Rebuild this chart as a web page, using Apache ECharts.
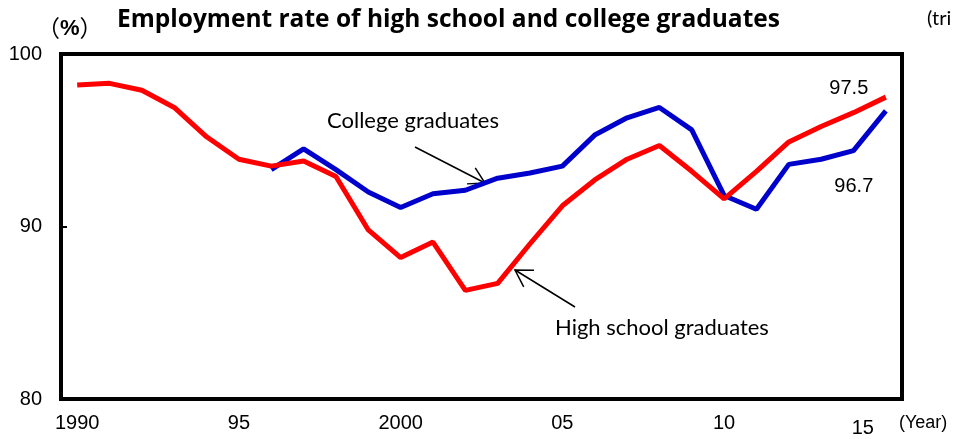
<!DOCTYPE html>
<html>
<head>
<meta charset="utf-8">
<script src="https://cdn.jsdelivr.net/npm/echarts@6/dist/echarts.min.js"></script>
<style>
  html, body { margin: 0; padding: 0; background: #fff; }
  #chart { width: 955px; height: 439px; }
</style>
</head>
<body>
<div id="chart"></div>
<script>
// Years on the horizontal axis
const years = ['1990','1991','1992','1993','1994','1995','1996','1997','1998','1999',
               '2000','2001','2002','2003','2004','2005','2006','2007','2008','2009',
               '2010','2011','2012','2013','2014','2015'];
// Tick label text shown for every fifth year
const yearLabels = { '1990': '1990', '1995': '95', '2000': '2000', '2005': '05', '2010': '10', '2015': '15' };

// Employment rate of high school graduates (%)
const highSchool = [98.2, 98.3, 97.9, 96.9, 95.2, 93.9, 93.5, 93.8, 92.9, 89.8,
                    88.2, 89.1, 86.3, 86.7, 89.0, 91.2, 92.7, 93.9, 94.7, 93.2,
                    91.6, 93.2, 94.9, 95.8, 96.6, 97.5];
// Employment rate of college graduates (%), series begins in 1996
const college = [null, null, null, null, null, null, 93.3, 94.5, 93.3, 92.0,
                 91.1, 91.9, 92.1, 92.8, 93.1, 93.5, 95.3, 96.3, 96.9, 95.6,
                 91.8, 91.0, 93.6, 93.9, 94.4, 96.7];

const yTicks = [80, 90, 100];

const chart = echarts.init(document.getElementById('chart'), null, { renderer: 'canvas' });

const lastIdx = years.length - 1;
const numFont = '"Liberation Sans", Arial, sans-serif';
const textFont = 'Lato, "Open Sans", sans-serif';

function arrow(x1, y1, x2, y2, len, spread) {
  const ang = Math.atan2(y1 - y2, x1 - x2);
  const a1 = ang - spread, a2 = ang + spread;
  return [
    { type: 'line', shape: { x1, y1, x2, y2 }, style: { stroke: '#000', lineWidth: 1.5 } },
    { type: 'polyline', shape: { points: [
        [x2 + len * Math.cos(a1), y2 + len * Math.sin(a1)],
        [x2, y2],
        [x2 + len * Math.cos(a2), y2 + len * Math.sin(a2)]
      ] }, style: { stroke: '#000', lineWidth: 1.5, fill: null } }
  ];
}

chart.setOption({
  animation: false,
  backgroundColor: '#fff',
  grid: {
    left: 61, right: 53, top: 54, bottom: 40,
    show: true, borderColor: '#000', borderWidth: 4, backgroundColor: 'transparent'
  },
  xAxis: {
    type: 'category',
    data: years,
    boundaryGap: true,
    axisLine: { show: false },
    axisTick: { show: false },
    axisLabel: {
      interval: 0,
      margin: 14,
      color: '#000',
      fontFamily: numFont,
      fontSize: 20,
      formatter: function (v) {
        const t = yearLabels[v];
        if (!t) return '';
        return v === '2015' ? '{last|' + t + '}' : t;
      },
      rich: {
        last: { fontFamily: numFont, fontSize: 20, color: '#000', padding: [5, 46, 0, 0] }
      }
    },
    splitLine: { show: false }
  },
  yAxis: {
    type: 'value',
    min: yTicks[0], max: yTicks[yTicks.length - 1], interval: 10,
    axisLine: { show: false },
    axisTick: { show: true, inside: true, length: 6, lineStyle: { color: '#000', width: 2 } },
    axisLabel: { margin: 19, color: '#000', fontFamily: numFont, fontSize: 20 },
    splitLine: { show: false }
  },
  series: [
    {
      name: 'College graduates',
      type: 'line',
      data: college,
      showSymbol: false,
      connectNulls: false,
      lineStyle: { color: '#0000cc', width: 5 },
      itemStyle: { color: '#0000cc' },
      markPoint: {
        symbol: 'circle', symbolSize: 0,
        label: { show: true, position: 'inside', offset: [-32, 76], color: '#000',
                 fontFamily: numFont, fontSize: 20, formatter: '{c}' },
        data: [{ coord: [years[lastIdx], college[lastIdx]], value: college[lastIdx] }]
      }
    },
    {
      name: 'High school graduates',
      type: 'line',
      data: highSchool,
      showSymbol: false,
      lineStyle: { color: '#ff0000', width: 5 },
      itemStyle: { color: '#ff0000' },
      markPoint: {
        symbol: 'circle', symbolSize: 0,
        label: { show: true, position: 'inside', offset: [-37, -9], color: '#000',
                 fontFamily: numFont, fontSize: 20, formatter: '{c}' },
        data: [{ coord: [years[lastIdx], highSchool[lastIdx]], value: highSchool[lastIdx] }]
      }
    }
  ],
  graphic: [
    { type: 'text', left: 117, top: 8,
      style: { text: 'Employment rate of high school and college graduates',
               font: 'bold 24.5px "Open Sans", Lato, sans-serif', fill: '#000' } },
    { type: 'text', left: 37, top: 17,
      style: { text: '{p|（}{b|%}{p|）}',
               rich: {
                 p: { font: '23px "Noto Sans CJK JP", sans-serif', fill: '#000' },
                 b: { font: 'bold 22px ' + numFont, fill: '#000' }
               } } },
    { type: 'text', left: 927, top: 9,
      style: { text: '(tri', font: '20px ' + textFont, fill: '#000' } },
    { type: 'text', left: 899, top: 414,
      style: { text: '(Year)', font: '18px ' + numFont, fill: '#000' } },
    { type: 'text', left: 327, top: 110,
      style: { text: 'College graduates', font: '22px ' + textFont, fill: '#000' } },
    { type: 'text', left: 555, top: 317,
      style: { text: 'High school graduates', font: '22px ' + textFont, fill: '#000' } },
    ...arrow(415, 147, 485, 183, 18, Math.PI / 6),
    ...arrow(575, 307, 515, 270, 19, Math.PI / 5.8)
  ]
});
</script>
</body>
</html>
